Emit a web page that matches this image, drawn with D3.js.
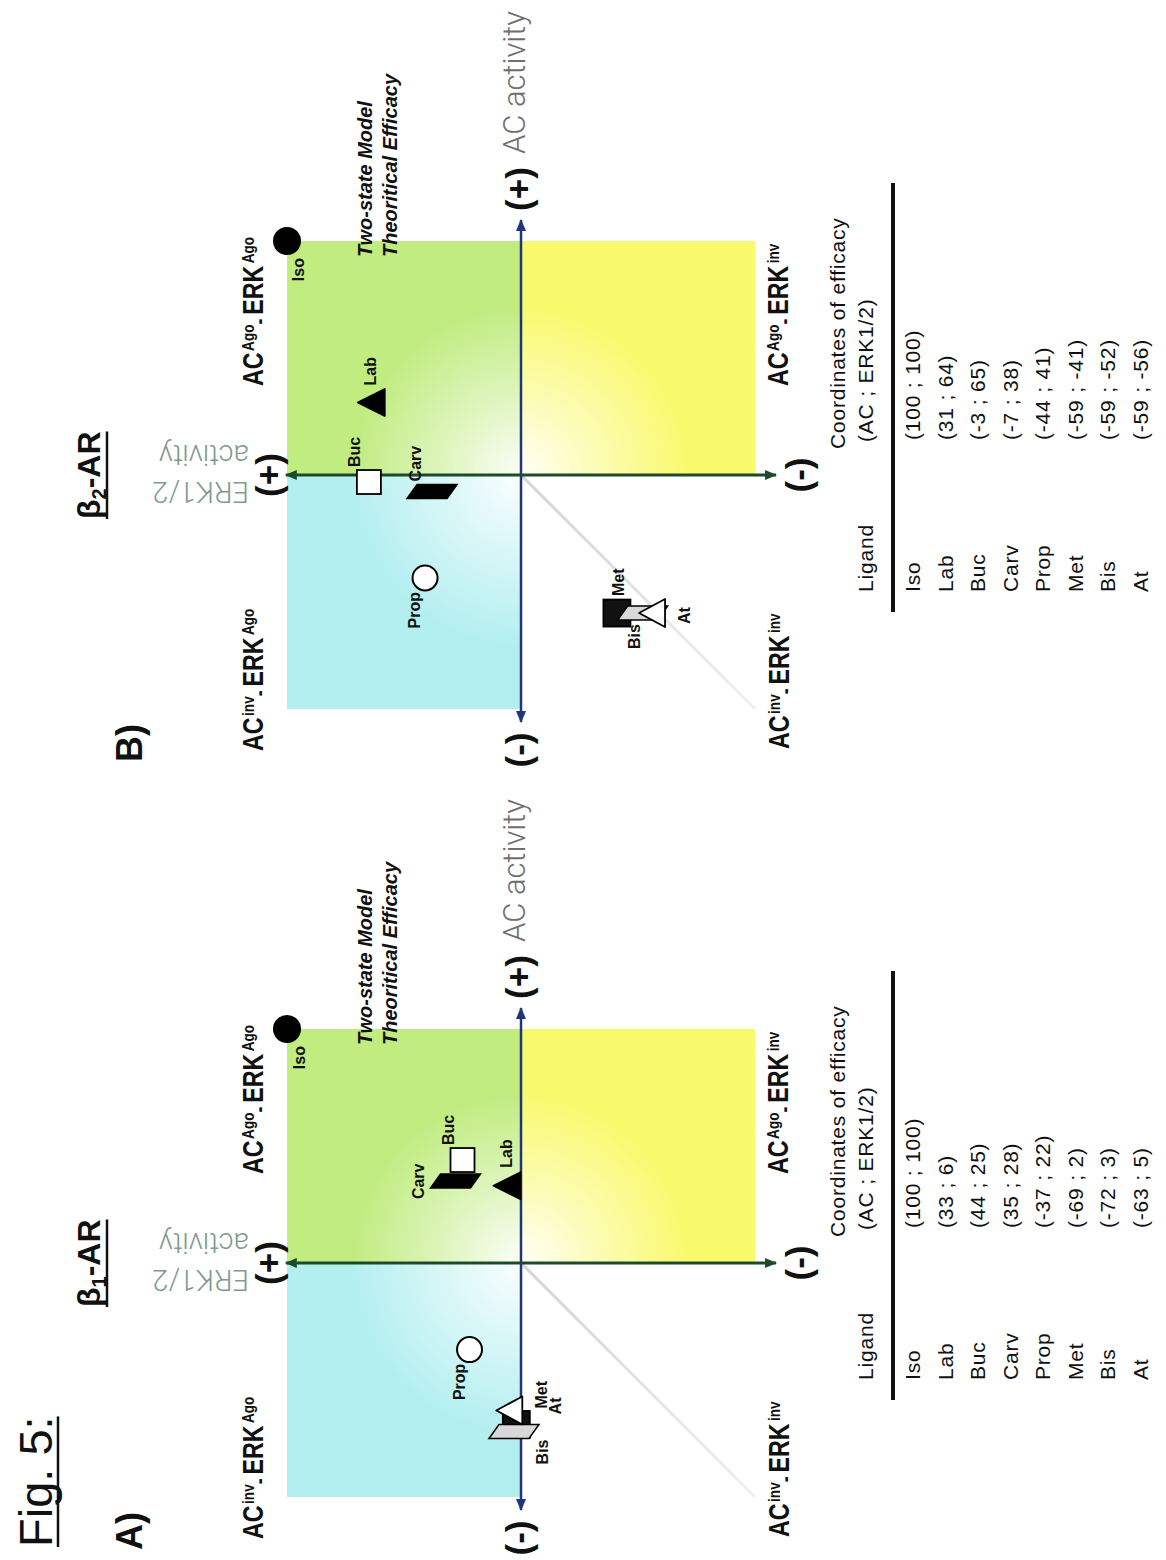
<!DOCTYPE html>
<html>
<head>
<meta charset="utf-8">
<script src="https://cdn.jsdelivr.net/npm/d3@7"></script>
<style>
  html, body { margin: 0; padding: 0; background: #fff; }
  svg { display: block; }
</style>
</head>
<body>
<svg id="fig" width="1166" height="1560"></svg>
<script>
// ---- data: coordinates of efficacy (AC ; ERK1/2) per ligand ----
const ligands = ["Iso", "Lab", "Buc", "Carv", "Prop", "Met", "Bis", "At"];
const acBeta1  = [100, 33, 44, 35, -37, -69, -72, -63];
const erkBeta1 = [100, 6, 25, 28, 22, 2, 3, 5];
const acBeta2  = [100, 31, -3, -7, -44, -59, -59, -59];
const erkBeta2 = [100, 64, 65, 38, 41, -41, -52, -56];

const receptorSubscripts = ["1", "2"];
const panelLetters = ["A)", "B)"];
const axisEnds = ["(+)", "(-)"];
const tableHeaders = ["Ligand", "Coordinates of efficacy", "(AC ; ERK1/2)"];
const modelNote = ["Two-state Model", "Theoritical Efficacy"];
// quadrant names: [AC state, ERK state]
const quadrantNames = [["inv", "Ago"], ["Ago", "Ago"], ["Ago", "inv"], ["inv", "inv"]];

// ---- layout (page is drawn upright, then turned a quarter to the left) ----
const W = 1166, H = 1560;
const panelOriginsU = [297, 1085];
const OV = 521;
const HALF = 234;

const GREEN = "#c0ec80", CYAN = "#b4eff0", YELLOW = "#f9f96c";
const AC_COLOR = "#22357a", ERK_COLOR = "#1c4a2a";
const FONT = "'Liberation Sans', Arial, sans-serif";

const svg = d3.select("#fig");
const defs = svg.append("defs");
const root = svg.append("g").attr("transform", `translate(0,${H}) rotate(-90)`);

function arrowMarker(id, color) {
  defs.append("marker")
    .attr("id", id)
    .attr("viewBox", "0 0 12 10")
    .attr("refX", 11).attr("refY", 5)
    .attr("markerWidth", 12).attr("markerHeight", 10)
    .attr("markerUnits", "userSpaceOnUse")
    .attr("orient", "auto-start-reverse")
    .append("path").attr("d", "M0,0 L12,5 L0,10 Z").attr("fill", color);
}
arrowMarker("arrAC", AC_COLOR);
arrowMarker("arrERK", ERK_COLOR);

// marker style for each ligand
const markStyle = {
  Iso:  { shape: "circle", r: 13, fill: "#000" },
  Lab:  { shape: "tri", w: 27, h: 27, fill: "#000" },
  Buc:  { shape: "square", s: 24, fill: "#fff" },
  Carv: { shape: "para", fill: "#000" },
  Prop: { shape: "circle", r: 12.5, fill: "#fff" },
  Met:  { shape: "square", s: 27, fill: "#111" },
  Bis:  { shape: "para", fill: "#d8d8d8" },
  At:   { shape: "tri", w: 28, h: 26, fill: "#fff" }
};
// label placement relative to each mark: [du, dv, anchor]
const labelPlacement = [
  { Iso: [-17, 18, "end"], Lab: [18, 5, "start"], Buc: [15, -9, "start"], Carv: [-18, -31, "start"],
    Prop: [-14, -5, "end"], Met: [16, 31, "start"], Bis: [-8, 34, "end"], At: [-4, 52, "start"] },
  { Iso: [-17, 17, "end"], Lab: [17, 5, "start"], Buc: [15, -9, "start"], Carv: [10, -11, "start"],
    Prop: [-14, -5, "end"], Met: [17, 7, "start"], Bis: [-11, -3, "end"], At: [-11, 38, "start"] }
];

function quadrantLabel(g, u, v, acSup, erkSup) {
  const t = g.append("g")
    .attr("transform", `translate(${u},${v}) scale(0.8,1)`)
    .append("text")
    .attr("font-family", FONT).attr("font-weight", "bold")
    .attr("font-size", 29).attr("fill", "#111");
  t.append("tspan").text("AC");
  t.append("tspan").attr("font-size", 17).attr("dy", -9).attr("dx", 2).text(acSup);
  t.append("tspan").attr("font-size", 22).attr("dy", 12).text("-");
  t.append("tspan").attr("font-size", 29).attr("dy", -3).attr("dx", 5).text("ERK");
  t.append("tspan").attr("font-size", 17).attr("dy", -9).attr("dx", 3).text(erkSup);
}

function drawMark(g, name, cu, cv) {
  const st = markStyle[name];
  const m = g.append("g").attr("transform", `translate(${cu},${cv})`);
  if (st.shape === "circle") {
    m.append("circle").attr("r", st.r).attr("fill", st.fill)
      .attr("stroke", "#000").attr("stroke-width", 2);
  } else if (st.shape === "square") {
    m.append("rect").attr("x", -st.s / 2).attr("y", -st.s / 2)
      .attr("width", st.s).attr("height", st.s)
      .attr("fill", st.fill).attr("stroke", "#000").attr("stroke-width", 1.8);
  } else if (st.shape === "tri") {
    m.append("path")
      .attr("d", `M0,${-st.h / 2} L${st.w / 2},${st.h / 2} L${-st.w / 2},${st.h / 2} Z`)
      .attr("fill", st.fill).attr("stroke", "#000").attr("stroke-width", 1.8)
      .attr("stroke-linejoin", "round");
  } else if (st.shape === "para") {
    m.append("path")
      .attr("d", "M-7,-25 L7,-15 L7,25 L-7,15 Z")
      .attr("fill", st.fill).attr("stroke", "#000").attr("stroke-width", 1.5);
  }
}

function drawPanel(p) {
  const ou = panelOriginsU[p], ov = OV;
  const ac = p === 0 ? acBeta1 : acBeta2;
  const erk = p === 0 ? erkBeta1 : erkBeta2;
  const x = d3.scaleLinear().domain([-100, 100]).range([ou - HALF, ou + HALF]);
  const y = d3.scaleLinear().domain([-100, 100]).range([ov + HALF, ov - HALF]);
  const g = root.append("g");

  // coloured quadrants
  const quads = [
    { a0: 0, a1: 100, e0: 0, e1: 100, fill: GREEN },
    { a0: -100, a1: 0, e0: 0, e1: 100, fill: CYAN },
    { a0: 0, a1: 100, e0: -100, e1: 0, fill: YELLOW }
  ];
  g.selectAll("rect.quad").data(quads).join("rect").attr("class", "quad")
    .attr("x", d => x(d.a0)).attr("width", d => x(d.a1) - x(d.a0))
    .attr("y", d => y(d.e1)).attr("height", d => y(d.e0) - y(d.e1))
    .attr("fill", d => d.fill);

  // pale glow around the origin
  const gid = "glow" + p;
  const rg = defs.append("radialGradient").attr("id", gid)
    .attr("gradientUnits", "userSpaceOnUse")
    .attr("cx", x(0)).attr("cy", y(0)).attr("r", 170);
  rg.append("stop").attr("offset", 0).attr("stop-color", "#fff").attr("stop-opacity", 0.95);
  rg.append("stop").attr("offset", 0.45).attr("stop-color", "#fff").attr("stop-opacity", 0.5);
  rg.append("stop").attr("offset", 1).attr("stop-color", "#fff").attr("stop-opacity", 0);
  g.append("rect")
    .attr("x", x(-100)).attr("y", y(100))
    .attr("width", x(100) - x(-100)).attr("height", y(-100) - y(100))
    .attr("fill", `url(#${gid})`);

  // faint diagonal towards the inverse / inverse corner
  const lid = "diag" + p;
  const lg = defs.append("linearGradient").attr("id", lid)
    .attr("gradientUnits", "userSpaceOnUse")
    .attr("x1", x(0)).attr("y1", y(0)).attr("x2", x(-100)).attr("y2", y(-100));
  lg.append("stop").attr("offset", 0).attr("stop-color", "#d4d4d4");
  lg.append("stop").attr("offset", 1).attr("stop-color", "#f0f0f0");
  g.append("line")
    .attr("x1", x(0)).attr("y1", y(0)).attr("x2", x(-100)).attr("y2", y(-100))
    .attr("stroke", `url(#${lid})`).attr("stroke-width", 3);

  // axes
  g.append("line")
    .attr("x1", x(-105.6)).attr("x2", x(109)).attr("y1", y(0)).attr("y2", y(0))
    .attr("stroke", AC_COLOR).attr("stroke-width", 2.5)
    .attr("marker-start", "url(#arrAC)").attr("marker-end", "url(#arrAC)");
  g.append("line")
    .attr("x1", x(0)).attr("x2", x(0)).attr("y1", y(100.5)).attr("y2", y(-109))
    .attr("stroke", ERK_COLOR).attr("stroke-width", 3)
    .attr("marker-start", "url(#arrERK)").attr("marker-end", "url(#arrERK)");

  // axis end signs
  const signs = [
    { t: axisEnds[0], u: x(0) + 286, v: y(0) + 10 },
    { t: axisEnds[1], u: x(0) - 275, v: y(0) + 10 },
    { t: axisEnds[0], u: x(0), v: y(0) - 240 },
    { t: axisEnds[1], u: x(0), v: y(0) + 290 }
  ];
  g.selectAll("text.sign").data(signs).join("text").attr("class", "sign")
    .attr("x", d => d.u).attr("y", d => d.v)
    .attr("text-anchor", "middle")
    .attr("font-family", FONT).attr("font-weight", "bold").attr("font-size", 35)
    .attr("fill", "#111").text(d => d.t);

  // axis names
  g.append("text")
    .attr("x", x(0) + 321).attr("y", y(0) + 4)
    .attr("font-family", "Roboto, 'Liberation Sans', sans-serif").attr("font-weight", 300)
    .attr("font-size", 31).attr("fill", "#6f6f6f").text("AC activity");
  const erkName = g.append("g")
    .attr("font-family", "Roboto, 'Liberation Sans', sans-serif").attr("font-weight", 300)
    .attr("font-size", 29).attr("fill", "#7f9a8e");
  erkName.append("text")
    .attr("transform", `translate(${x(0) - 7},${ov - 272}) rotate(-90)`).text("ERK1/2");
  erkName.append("text")
    .attr("transform", `translate(${x(0) + 30},${ov - 272}) rotate(-90)`).text("activity");

  // quadrant names
  const qpos = [[ou - 276, ov - 258], [ou + 89, ov - 258], [ou + 89, ov + 267], [ou - 274, ov + 268]];
  quadrantNames.forEach((q, i) => quadrantLabel(g, qpos[i][0], qpos[i][1], q[0], q[1]));

  // model note
  const note = g.append("text")
    .attr("font-family", FONT).attr("font-weight", "bold").attr("font-style", "italic")
    .attr("font-size", 20).attr("fill", "#111");
  note.append("tspan").attr("x", ou + 218).attr("y", ov - 149).text(modelNote[0]);
  note.append("tspan").attr("x", ou + 218).attr("y", ov - 124).text(modelNote[1]);

  // panel letter and receptor title
  g.append("text")
    .attr("x", ou - 287).attr("y", ov - 379)
    .attr("font-family", FONT).attr("font-weight", "bold").attr("font-size", 36)
    .attr("fill", "#111").text(panelLetters[p]);
  const title = g.append("text")
    .attr("x", ou - 44).attr("y", ov - 421)
    .attr("font-family", FONT).attr("font-weight", "bold").attr("font-size", 32)
    .attr("fill", "#111");
  title.append("tspan").text("β");
  title.append("tspan").attr("font-size", 20).attr("dy", 6).text(receptorSubscripts[p]);
  title.append("tspan").attr("dy", -6).text("-AR");
  const tw = title.node().getComputedTextLength();
  g.append("line")
    .attr("x1", ou - 44).attr("x2", ou - 44 + tw)
    .attr("y1", ov - 414).attr("y2", ov - 414)
    .attr("stroke", "#111").attr("stroke-width", 2.5);

  // ligand marks
  const pts = ligands.map((name, i) => ({ name, ac: ac[i], erk: erk[i] }));
  pts.forEach(d => drawMark(g, d.name, x(d.ac), y(d.erk)));
  g.selectAll("text.lig").data(pts).join("text").attr("class", "lig")
    .attr("x", d => x(d.ac) + labelPlacement[p][d.name][0])
    .attr("y", d => y(d.erk) + labelPlacement[p][d.name][1])
    .attr("text-anchor", d => labelPlacement[p][d.name][2])
    .attr("font-family", FONT).attr("font-weight", "bold").attr("font-size", 16)
    .attr("fill", "#111").text(d => d.name);

  // table of coordinates
  const tbl = g.append("g")
    .attr("font-family", FONT).attr("font-size", 21).attr("letter-spacing", 0.8).attr("fill", "#111");
  tbl.append("text").attr("x", ou - 117).attr("y", ov + 352).text(tableHeaders[0]);
  tbl.append("text").attr("x", ou + 26).attr("y", ov + 324).text(tableHeaders[1]);
  tbl.append("text").attr("x", ou + 33).attr("y", ov + 352).text(tableHeaders[2]);
  g.append("line")
    .attr("x1", ou - 137).attr("x2", ou + 292)
    .attr("y1", ov + 372).attr("y2", ov + 372)
    .attr("stroke", "#111").attr("stroke-width", 4);
  const row = d3.scaleLinear().domain([0, 1]).range([ov + 399, ov + 431.5]);
  tbl.selectAll("text.rowname").data(pts).join("text").attr("class", "rowname")
    .attr("x", ou - 117).attr("y", (d, i) => row(i)).text(d => d.name);
  tbl.selectAll("text.rowval").data(pts).join("text").attr("class", "rowval")
    .attr("x", ou + 35).attr("y", (d, i) => row(i))
    .text(d => `(${d.ac} ; ${d.erk})`);
}

drawPanel(0);
drawPanel(1);

// figure caption
const cap = root.append("text")
  .attr("x", 13).attr("y", 52)
  .attr("font-family", FONT).attr("font-size", 47).attr("fill", "#111")
  .text("Fig. 5:");
const cw = cap.node().getComputedTextLength();
root.append("line")
  .attr("x1", 13).attr("x2", 13 + cw).attr("y1", 58).attr("y2", 58)
  .attr("stroke", "#111").attr("stroke-width", 2.5);
</script>
</body>
</html>
